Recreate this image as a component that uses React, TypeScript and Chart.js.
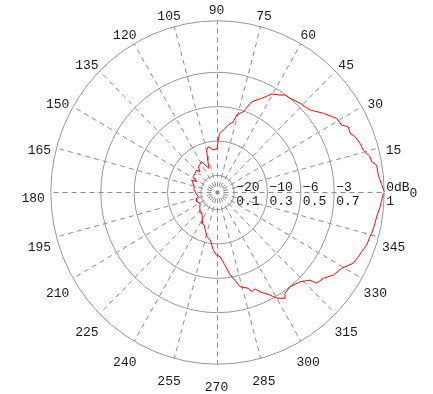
import React, { useEffect, useRef } from 'react';
import { Chart, registerables } from 'chart.js';

Chart.register(...registerables);

// ---- data ----
// measured pattern: direction in degrees (counter-clockwise from 0° at the right) and linear amplitude
const angleDeg = [
  0.3, 2.6, 6.0, 9.5, 11.0, 12.9, 15.8, 18.5, 21.5, 23.5, 26.0, 27.8, 31.1, 36.0, 40.9, 46.4,
  51.6, 54.5, 56.6, 60.5, 64.2, 68.8, 71.8, 75.7, 77.0, 80.6, 84.5, 87.5, 89.0, 90.3, 95.8,
  101.6, 104.7, 107.3, 109.9, 115.0, 117.9, 127.5, 131.0, 133.6, 147.6, 153.0, 155.0, 166.0,
  174.0, 192.0, 195.0, 203.0, 211.0, 218.0, 229.0, 230.0, 241.0, 243.0, 247.0, 256.0, 261.0,
  265.7, 269.0, 272.3, 276.0, 278.9, 281.6, 283.8, 288.3, 289.5, 291.8, 293.8, 297.8, 300.0,
  303.3, 304.6, 308.4, 313.6, 317.4, 318.4, 321.8, 325.3, 329.4, 333.2, 336.1, 338.3, 341.1,
  344.3, 345.6, 349.3, 351.6, 355.1, 357.4, 359.7,
];
const amplitude = [
  1.0, 0.986, 0.97, 0.968, 0.942, 0.938, 0.909, 0.902, 0.887, 0.867, 0.873, 0.842, 0.835, 0.785, 0.734, 0.718,
  0.7, 0.698, 0.68, 0.659, 0.609, 0.567, 0.495, 0.466, 0.423, 0.398, 0.366, 0.345, 0.316, 0.257, 0.249,
  0.272, 0.256, 0.198, 0.15, 0.177, 0.203, 0.189, 0.16, 0.181, 0.172, 0.14, 0.171, 0.143,
  0.142, 0.118, 0.129, 0.136, 0.122, 0.134, 0.16, 0.147, 0.185, 0.203, 0.205, 0.265, 0.28,
  0.336, 0.364, 0.374, 0.424, 0.486, 0.521, 0.565, 0.588, 0.613, 0.605, 0.632, 0.675, 0.711,
  0.737, 0.713, 0.7, 0.718, 0.754, 0.796, 0.808, 0.845, 0.866, 0.913, 0.924, 0.931, 0.946,
  0.95, 0.955, 0.962, 0.965, 0.979, 0.986, 0.995,
];

// grid rings (linear amplitude) and their labels
const ringValues = [0.1, 0.3, 0.5, 0.7, 1];
const ringDbLabels = ['\u221220', '\u221210', '\u22126', '\u22123', '0dB'];
const ringLinLabels = ['0.1', '0.3', '0.5', '0.7', '1'];

// angular grid: spokes and their labels
const spokeAngles = [0, 15, 30, 45, 60, 75, 90, 105, 120, 135, 150, 165, 180, 195, 210, 225, 240, 255, 270, 285, 300, 315, 330, 345];
const spokeLabels = ['0', '15', '30', '45', '60', '75', '90', '105', '120', '135', '150', '165', '180', '195', '210', '225', '240', '255', '270', '285', '300', '315', '330', '345'];

// ---- layout constants ----
const W = 433;
const H = 394;
const CX = 217.5; // pixel of the pole
const CY = 192.5;
const RX = 166.7; // pixels per unit amplitude
const RY = 171.7;
const LABEL_R = 1.1;
const FONT = '13px "Liberation Mono", "DejaVu Sans Mono", monospace';
const TEXT_COLOR = '#1a1a1a';

const rad = (d: number) => (d * Math.PI) / 180;

const polarGrid = {
  id: 'polarGrid',
  beforeDatasetsDraw(chart: any) {
    const { ctx } = chart;
    const xs = chart.scales.x;
    const ys = chart.scales.y;
    const cx = xs.getPixelForValue(0);
    const cy = ys.getPixelForValue(0);
    ctx.save();
    // rings
    ctx.strokeStyle = '#979797';
    ctx.lineWidth = 1;
    ctx.setLineDash([]);
    ringValues.forEach((v) => {
      const rx = xs.getPixelForValue(v) - cx;
      const ry = cy - ys.getPixelForValue(v);
      ctx.beginPath();
      ctx.ellipse(cx, cy, rx, ry, 0, 0, Math.PI * 2);
      ctx.stroke();
    });
    // spokes
    ctx.strokeStyle = '#8c8c8c';
    ctx.setLineDash([5, 4]);
    ctx.lineDashOffset = 3;
    spokeAngles.forEach((a) => {
      const ex = xs.getPixelForValue(Math.cos(rad(a)));
      const ey = ys.getPixelForValue(Math.sin(rad(a)));
      ctx.beginPath();
      ctx.moveTo(cx, cy);
      ctx.lineTo(ex, ey);
      ctx.stroke();
    });
    ctx.setLineDash([]);
    ctx.lineDashOffset = 0;

    // ring labels (dB above the axis, linear below)
    ctx.font = FONT;
    ctx.fillStyle = TEXT_COLOR;
    ctx.textAlign = 'left';
    ctx.textBaseline = 'alphabetic';
    let zeroX = 0;
    ringValues.forEach((v, i) => {
      const px = xs.getPixelForValue(v) + 2;
      ctx.fillText(ringDbLabels[i], px, cy - 1.5);
      ctx.fillText(ringLinLabels[i], px, cy + 12.5);
      if (i === ringValues.length - 1) zeroX = px + ctx.measureText(ringDbLabels[i]).width;
    });

    // angle labels
    spokeAngles.forEach((a, i) => {
      if (a === 0) {
        ctx.textAlign = 'left';
        ctx.textBaseline = 'alphabetic';
        ctx.fillText(spokeLabels[i], zeroX, cy + 4);
        return;
      }
      ctx.textAlign = 'center';
      ctx.textBaseline = 'middle';
      const lx = xs.getPixelForValue(LABEL_R * Math.cos(rad(a))) - 1;
      const ly = ys.getPixelForValue(LABEL_R * Math.sin(rad(a))) + 6.5;
      ctx.fillText(spokeLabels[i], lx, ly);
    });
    ctx.restore();
  },
};

export default function App() {
  const ref = useRef<HTMLCanvasElement | null>(null);
  useEffect(() => {
    if (!ref.current) return;
    const points = angleDeg.map((a, i) => ({
      x: amplitude[i] * Math.cos(rad(a)),
      y: amplitude[i] * Math.sin(rad(a)),
    }));
    const chart = new Chart(ref.current, {
      type: 'scatter',
      data: {
        datasets: [
          {
            data: points,
            showLine: true,
            borderColor: '#ff0000',
            backgroundColor: '#ff0000',
            borderWidth: 1,
            pointRadius: 0,
            tension: 0,
            fill: false,
          },
        ],
      },
      options: {
        responsive: false,
        animation: false,
        layout: { padding: 0 },
        plugins: { legend: { display: false }, tooltip: { enabled: false } },
        scales: {
          x: { type: 'linear', min: -CX / RX, max: (W - CX) / RX, display: false },
          y: { type: 'linear', min: -(H - CY) / RY, max: CY / RY, display: false },
        },
      },
      plugins: [polarGrid],
    });
    return () => chart.destroy();
  }, []);
  return (
    <div style={{ position: 'absolute', left: 0, top: 0, width: W, height: H, background: '#fff' }}>
      <canvas ref={ref} width={W} height={H} style={{ display: 'block' }} />
    </div>
  );
}
